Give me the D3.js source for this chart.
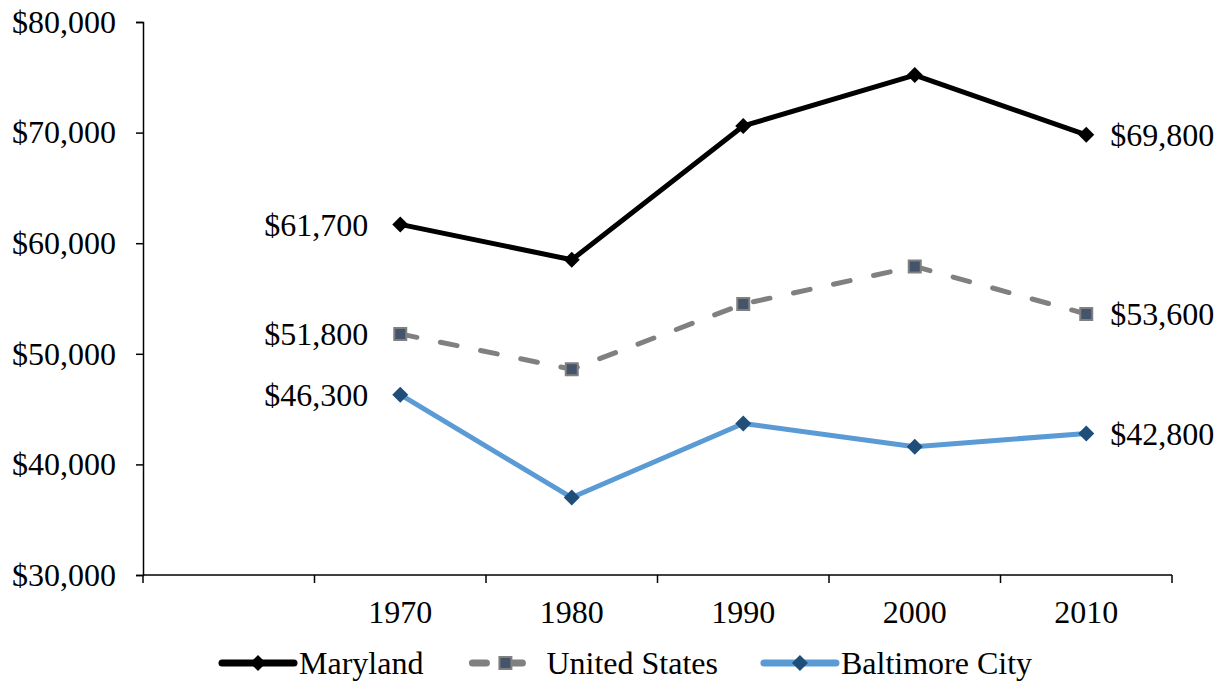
<!DOCTYPE html>
<html>
<head>
<meta charset="utf-8">
<style>
    body { margin: 0; background: #fff; }
    svg text { font-family: "Liberation Serif", "Times New Roman", serif; fill: #000; }
    .axis .domain, .axis line { stroke: #000; stroke-width: 1.5; }
</style>
</head>
<body>
<svg width="1220" height="681"></svg>
<script src="https://d3js.org/d3.v7.min.js"></script>
<script>
    // data
    var years = ["", "1970", "1980", "1990", "2000", "2010"];
    var maryland = [61700, 58500, 70600, 75200, 69800];
    var unitedStates = [51800, 48600, 54500, 57900, 53600];
    var baltimore = [46300, 37000, 43700, 41600, 42800];
    var yTicks = [30000, 40000, 50000, 60000, 70000, 80000];

    var svg = d3.select("svg"),
        margin = { top: 22, right: 48, bottom: 106, left: 143 },
        width = +svg.attr("width") - margin.left - margin.right,
        height = +svg.attr("height") - margin.top - margin.bottom,
        g = svg.append("g").attr("transform", "translate(" + margin.left + "," + margin.top + ")");

    var x = d3.scaleBand().domain(years).range([0, width]);
    var y = d3.scaleLinear().domain([30000, 80000]).range([height, 0]);
    var fmt = function (v) { return "$" + d3.format(",")(v); };
    var fs = "32px";

    var series = [
        { name: "Maryland", values: maryland, color: "#000", width: 5, dash: null, marker: "diamond", mfill: "#000", mstroke: "none" },
        { name: "United States", values: unitedStates, color: "#808080", width: 5, dash: "17,24", marker: "square", mfill: "#44546a", mstroke: "#808080" },
        { name: "Baltimore City", values: baltimore, color: "#5b9bd5", width: 5, dash: null, marker: "diamond", mfill: "#1f4e79", mstroke: "none" }
    ];
    var cats = years.slice(1);

    // axes
    g.append("g").attr("class", "axis")
        .call(d3.axisLeft(y).tickValues(yTicks).tickSize(7).tickPadding(20).tickFormat(fmt))
        .call(function (a) {
            a.selectAll("text").style("font-size", fs);
        });

    var xa = g.append("g").attr("class", "axis").attr("transform", "translate(0," + height + ")");
    xa.append("path").attr("class", "domain").attr("d", "M0,0H" + width);
    xa.selectAll("line.tick").data(d3.range(years.length + 1)).enter().append("line")
        .attr("x1", function (i) { return i * x.bandwidth(); })
        .attr("x2", function (i) { return i * x.bandwidth(); })
        .attr("y1", 0).attr("y2", 8);
    xa.selectAll("text").data(cats).enter().append("text")
        .attr("x", function (d) { return x(d) + x.bandwidth() / 2; })
        .attr("y", 48)
        .attr("text-anchor", "middle")
        .style("font-size", fs)
        .text(function (d) { return d; });

    function markerPath(type) {
        if (type === "square") return "M-6,-6H6V6H-6Z";
        return "M0,-8L8,0L0,8L-8,0Z";
    }

    var line = d3.line()
        .x(function (d, i) { return x(cats[i]) + x.bandwidth() / 2; })
        .y(function (d) { return y(d); });

    series.forEach(function (s) {
        g.append("path")
            .attr("d", line(s.values))
            .attr("fill", "none")
            .attr("stroke", s.color)
            .attr("stroke-width", s.width)
            .attr("stroke-linecap", s.dash ? "round" : "butt")
            .attr("stroke-linejoin", "round")
            .attr("stroke-dasharray", s.dash);
        g.selectAll(null).data(s.values).enter().append("path")
            .attr("transform", function (d, i) {
                return "translate(" + (x(cats[i]) + x.bandwidth() / 2) + "," + y(d) + ")";
            })
            .attr("d", markerPath(s.marker))
            .attr("fill", s.mfill)
            .attr("stroke", s.mstroke)
            .attr("stroke-width", 2);

        // data labels at first and last points
        var n = s.values.length;
        g.append("text")
            .attr("x", x(cats[0]) + x.bandwidth() / 2 - 32)
            .attr("y", y(s.values[0]))
            .attr("dy", "0.35em")
            .attr("text-anchor", "end")
            .style("font-size", fs)
            .text(fmt(s.values[0]));
        g.append("text")
            .attr("x", x(cats[n - 1]) + x.bandwidth() / 2 + 24)
            .attr("y", y(s.values[n - 1]))
            .attr("dy", "0.35em")
            .style("font-size", fs)
            .text(fmt(s.values[n - 1]));
    });

    // legend
    var legend = svg.append("g").attr("transform", "translate(0,663)");
    var lx = 222;
    series.forEach(function (s) {
        var item = legend.append("g").attr("transform", "translate(" + lx + ",0)");
        item.append("line")
            .attr("x1", s.dash ? 3 : 0).attr("x2", s.dash ? 67 : 72)
            .attr("y1", 0).attr("y2", 0)
            .attr("stroke", s.color)
            .attr("stroke-width", 7)
            .attr("stroke-linecap", "round")
            .attr("stroke-dasharray", s.dash ? "14,22" : null);
        item.append("path")
            .attr("transform", "translate(36,0)")
            .attr("d", markerPath(s.marker))
            .attr("fill", s.mfill)
            .attr("stroke", s.mstroke)
            .attr("stroke-width", 2);
        var t = item.append("text")
            .attr("x", 77)
            .attr("dy", "0.35em")
            .style("font-size", fs)
            .text(s.name);
        lx += 77 + t.node().getComputedTextLength() + 46;
    });
</script>
</body>
</html>
